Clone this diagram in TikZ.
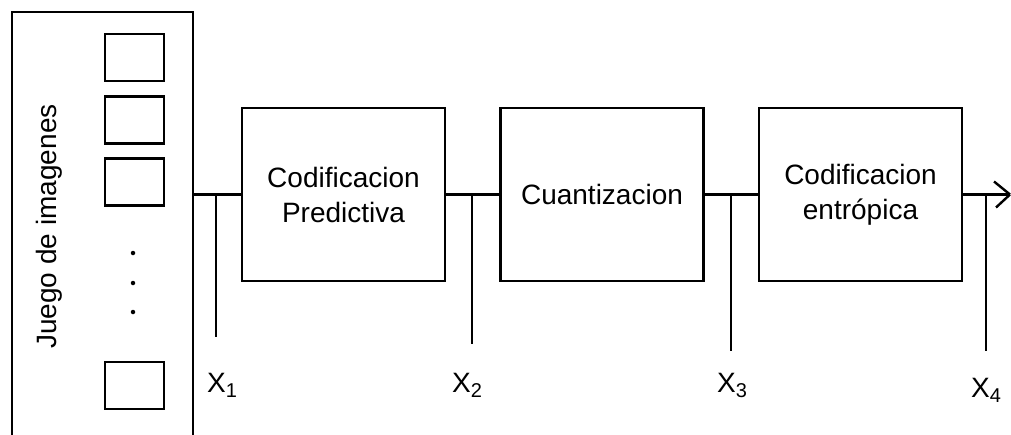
\documentclass[tikz,border=0pt]{standalone}
\usepackage{fontspec}
\setmainfont{Liberation Sans}
\begin{document}
\begin{tikzpicture}[x=1pt,y=-1pt,line width=2.4pt,
  blk/.style={draw,minimum width=203pt,minimum height=173pt,inner sep=0pt,align=center,font=\fontsize{28}{35}\selectfont},
  img/.style={draw,minimum width=59pt,minimum height=47pt,inner sep=0pt},
  lab/.style={font=\fontsize{28}{30}\selectfont,inner sep=0pt,anchor=west},
  dotm/.style={circle,fill,inner sep=0pt,minimum size=4.5pt}]
\clip (0,0) rectangle (1011,434);
\node[draw,minimum width=181pt,minimum height=433pt,inner sep=0pt] (set) at (102.5,228.5) {};
\node[rotate=90,font=\fontsize{28}{30}\selectfont] (settxt) at (49,226.5) {Juego de imagenes};
\node[img] (i1) at (134.5,57.5) {};
\node[img] (i2) at (134.5,120) {};
\node[img] (i3) at (134.5,182) {};
\node[img] (i4) at (134.5,385.5) {};
\node[dotm] (d1) at (133,253) {};
\node[dotm] (d2) at (133,283) {};
\node[dotm] (d3) at (133,312) {};
\node[blk] (b1) at (343.5,194.5) {Codificacion\\Predictiva};
\node[blk] (b2) at (602,194.5) {Cuantizacion};
\node[blk] (b3) at (860.5,194.5) {Codificacion\\entrópica};
\coordinate (t1) at (216,194.5); \coordinate (e1) at (216,337);
\coordinate (t2) at (472,194.5); \coordinate (e2) at (472,344);
\coordinate (t3) at (731,194.5); \coordinate (e3) at (731,351);
\coordinate (t4) at (986,194.5); \coordinate (e4) at (986,351);
\coordinate (tip) at (1010,194.5);
\draw (set.east |- b1.west) -- (b1.west);
\draw (b1.east) -- (b2.west);
\draw (b2.east) -- (b3.west);
\draw (b3.east) -- (tip);
\draw (tip) -- ++(-16,-13) (tip) -- ++(-14,13);
\draw (t1) -- (e1);
\draw (t2) -- (e2);
\draw (t3) -- (e3);
\draw (t4) -- (e4);
\node[lab] (x1) at (206,385) {X\raisebox{-0.18em}{\fontsize{20}{20}\selectfont 1}};
\node[lab] (x2) at (451,385) {X\raisebox{-0.18em}{\fontsize{20}{20}\selectfont 2}};
\node[lab] (x3) at (716,385) {X\raisebox{-0.18em}{\fontsize{20}{20}\selectfont 3}};
\node[lab] (x4) at (970,390) {X\raisebox{-0.18em}{\fontsize{20}{20}\selectfont 4}};
\end{tikzpicture}
\end{document}
